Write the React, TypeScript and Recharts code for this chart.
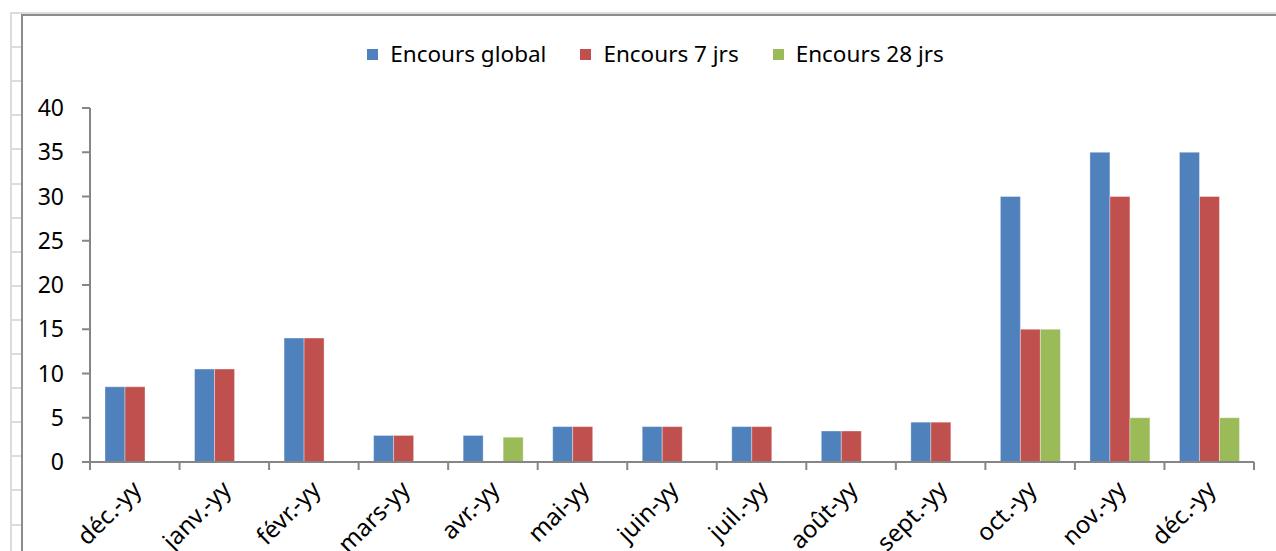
import React from "react";
import { BarChart, Bar, XAxis, YAxis } from "recharts";

// --- Data ---

const months = [
  "déc.-yy",
  "janv.-yy",
  "févr.-yy",
  "mars-yy",
  "avr.-yy",
  "mai-yy",
  "juin-yy",
  "juil.-yy",
  "août-yy",
  "sept.-yy",
  "oct.-yy",
  "nov.-yy",
  "déc.-yy",
];

const encoursGlobal = [8.5, 10.5, 14, 3, 3, 4, 4, 4, 3.5, 4.5, 30, 35, 35];
const encours7 = [8.5, 10.5, 14, 3, 0, 4, 4, 4, 3.5, 4.5, 15, 30, 30];
const encours28 = [null, null, null, null, 2.8, null, null, null, null, null, 15, 5, 5];

const yTicks = [0, 5, 10, 15, 20, 25, 30, 35, 40];

const series = [
  { key: "global", label: "Encours global", color: "#4F81BD" },
  { key: "j7", label: "Encours 7 jrs", color: "#C0504D" },
  { key: "j28", label: "Encours 28 jrs", color: "#9BBB59" },
];

const data = months.map((m, i) => ({
  label: m,
  global: encoursGlobal[i],
  j7: encours7[i],
  j28: encours28[i],
}));

// --- Layout ---

const WIDTH = 1276;
const HEIGHT = 551;
const FONT = "'Noto Sans', sans-serif";
const AXIS = "#868686";
const MARGIN = { top: 108, right: 22, left: 30, bottom: 9 };
const Y_AXIS_W = 60;
const X_AXIS_H = 80;
const PLOT_W = WIDTH - MARGIN.left - MARGIN.right - Y_AXIS_W;
const BAND = PLOT_W / months.length;

// Excel-style category axis: tick marks sit between categories
const MonthTick: React.FC<any> = ({ x, y, payload, index }) => {
  const left = x - BAND / 2;
  const ax = x + 8;
  const ay = y + 21;
  return (
    <g>
      <line x1={left} y1={y - 8} x2={left} y2={y} stroke={AXIS} strokeWidth={2} />
      {index === months.length - 1 && (
        <line x1={x + BAND / 2} y1={y - 8} x2={x + BAND / 2} y2={y} stroke={AXIS} strokeWidth={2} />
      )}
      <text
        x={ax}
        y={ay}
        transform={`rotate(-45, ${ax}, ${ay})`}
        textAnchor="end"
        fontFamily={FONT}
        fontSize={24}
        fill="#000"
      >
        {payload.value}
      </text>
    </g>
  );
};

const ChartLegend: React.FC = () => (
  <div
    style={{
      position: "absolute",
      left: 0,
      top: 38,
      width: WIDTH,
      display: "flex",
      justifyContent: "center",
      gap: 34,
      fontFamily: FONT,
      fontSize: 22.5,
      lineHeight: "32px",
      color: "#000",
      paddingLeft: 35,
      boxSizing: "border-box",
    }}
  >
    {series.map((s) => (
      <div key={s.key} style={{ display: "flex", alignItems: "center" }}>
        <span
          style={{
            display: "inline-block",
            width: 11,
            height: 11,
            background: s.color,
            marginRight: 12,
          }}
        />
        {s.label}
      </div>
    ))}
  </div>
);

// spreadsheet rows peeking out on the left
const rowLines = Array.from({ length: 16 }, (_, i) => 12 + i * 34.1);

export default function App() {
  return (
    <div
      style={{
        position: "absolute",
        left: 0,
        top: 0,
        width: WIDTH,
        height: HEIGHT,
        background: "#fff",
        overflow: "hidden",
      }}
    >
      <div style={{ position: "absolute", left: 10, top: 12, width: 2, height: HEIGHT, background: "#dcdcdc" }} />
      <div style={{ position: "absolute", left: 10, top: 12, width: WIDTH, height: 2, background: "#dcdcdc" }} />
      {rowLines.map((y) => (
        <div
          key={y}
          style={{ position: "absolute", left: 10, top: y, width: 12, height: 2, background: "#dcdcdc" }}
        />
      ))}
      <div
        style={{
          position: "absolute",
          left: 21,
          top: 14,
          width: WIDTH,
          height: HEIGHT,
          borderLeft: "2px solid #8c8c8c",
          borderTop: "2px solid #8c8c8c",
        }}
      />
      <ChartLegend />
      <div style={{ position: "absolute", left: 0, top: 0 }}>
        <BarChart width={WIDTH} height={HEIGHT} data={data} margin={MARGIN} barSize={20} barGap={0}>
          <XAxis
            dataKey="label"
            interval={0}
            height={X_AXIS_H}
            tickLine={false}
            axisLine={{ stroke: AXIS, strokeWidth: 2 }}
            tick={<MonthTick />}
          />
          <YAxis
            width={Y_AXIS_W}
            domain={[0, 40]}
            ticks={yTicks}
            interval={0}
            tickSize={8}
            tickMargin={18}
            axisLine={{ stroke: AXIS, strokeWidth: 2 }}
            tickLine={{ stroke: AXIS, strokeWidth: 2 }}
            tick={{ fill: "#000", fontSize: 23, fontFamily: FONT }}
          />
          {series.map((s) => (
            <Bar
              key={s.key}
              dataKey={s.key}
              name={s.label}
              fill={s.color}
              stroke="rgba(255,255,255,0.35)"
              strokeWidth={1}
              isAnimationActive={false}
            />
          ))}
        </BarChart>
      </div>
    </div>
  );
}
